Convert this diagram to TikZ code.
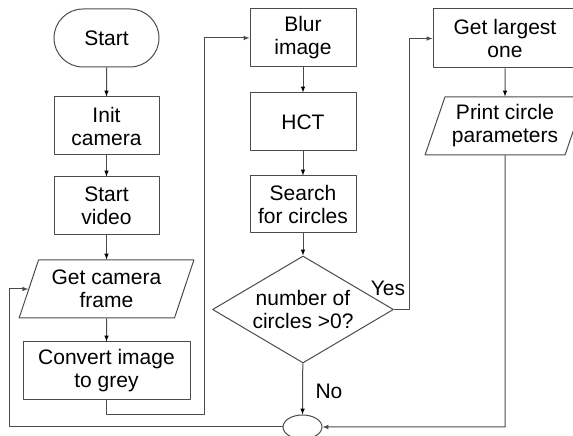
\documentclass[tikz,border=0pt]{standalone}
\usepackage{fontspec}
\setmainfont{Liberation Sans}
\usetikzlibrary{shapes.geometric,shapes.misc}
\definecolor{linegray}{RGB}{75,75,75}
\begin{document}
\begin{tikzpicture}[x=1pt,y=1pt,>=latex,line join=bevel,
  every node/.style={font=\fontsize{21}{23}\selectfont,align=center,inner sep=0pt},
  box/.style={draw=linegray,line width=1pt,rectangle,minimum width=106pt,minimum height=58pt},
  terminal/.style={draw=linegray,line width=1pt,rounded rectangle,minimum width=105pt,minimum height=58pt},
  iobox/.style={draw=linegray,line width=1pt,trapezium,trapezium left angle=67.5,trapezium right angle=112.5,trapezium stretches=true,minimum height=58pt},
  decision/.style={draw=linegray,line width=1pt,diamond,aspect=1.69,minimum width=181pt,minimum height=107pt},
  flow/.style={draw=linegray,line width=1pt},
]
%%
  \useasboundingbox (0,0) rectangle (573,436);
  \node (node_start) at (106.5,398) [terminal] {Start};
  \node (node_init) at (106.5,310) [box,minimum width=105pt] {Init\\camera};
  \node (node_video) at (106.5,230) [box,minimum width=105pt] {Start\\video};
  \node (node_frame) at (106.5,147) [iobox,minimum width=175pt] {Get camera\\frame};
  \node (node_grey) at (106.5,65) [box,minimum width=167pt] {Convert image\\to grey};
  \node (node_blur) at (303,398) [box] {Blur\\image};
  \node (node_hct) at (303,314) [box] {HCT};
  \node (node_search) at (303,231.5) [box,minimum height=57pt] {Search\\for circles};
  \node (node_test) at (303,126.5) [decision] {number of\\circles >0?};
  \node (node_largest) at (505,397.5) [box,minimum width=144pt,minimum height=59pt] {Get largest\\one};
  \node (node_print) at (505,310) [iobox,minimum width=160pt] {Print circle\\parameters};
  \node (node_join) at (302.5,9) [draw=linegray,line width=1pt,ellipse,minimum width=39pt,minimum height=24pt] {};
  \node (label_yes) at (388,148) {Yes};
  \node (label_no) at (329,44.5) {No};

  \coordinate (turn_grey) at (204,21);
  \coordinate (turn_yes) at (409,126.5);
  \coordinate (turn_back) at (9,9);
  \coordinate (turn_print) at (505,9);

  \draw [flow,->] (node_start) edge (node_init);
  \draw [flow,->] (node_init) edge (node_video);
  \draw [flow,->] (node_video) edge (node_frame);
  \draw [flow,->] (node_frame) edge (node_grey);
  \draw [flow,->] (node_grey.south) |- (turn_grey) |- (node_blur.west);
  \draw [flow,->] (node_blur) edge (node_hct);
  \draw [flow,->] (node_hct) edge (node_search);
  \draw [flow,->] (node_search) edge (node_test);
  \draw [flow,->] (node_test.east) -- (turn_yes) |- (node_largest.west);
  \draw [flow,->] (node_test) edge (node_join);
  \draw [flow,->] (node_largest) edge (node_print);
  \draw [flow,->] (node_print.south) -- (turn_print) -- (node_join.east);
  \draw [flow,->] (node_join.west) -- (turn_back) |- (node_frame.west);
%
\end{tikzpicture}
\end{document}
